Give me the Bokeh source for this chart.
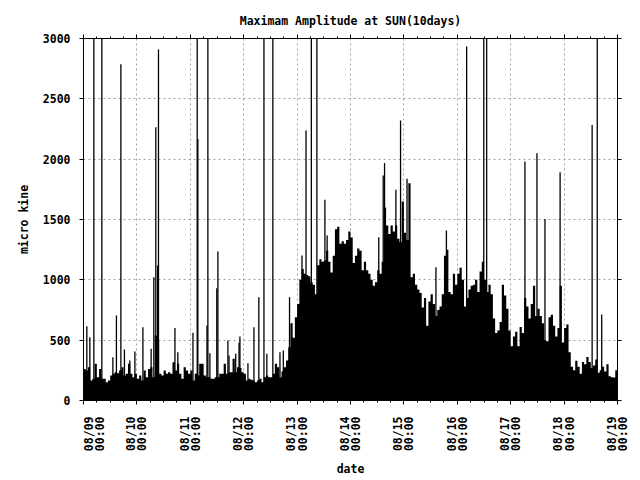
import math
from bokeh.plotting import figure
from bokeh.models import LinearAxis, FixedTicker, Range1d, Grid, ColumnDataSource
from bokeh.embed import file_html
from bokeh.resources import INLINE

# ---- data (hours since 08/09 00:00) ----
hours = list(range(240))
base = [
    262, 249, 276, 166, 180, 304, 193, 262, 180, 180,
    152, 166, 207, 221, 235, 226, 249, 276, 207, 221,
    304, 221, 193, 221, 180, 207, 166, 249, 193, 262,
    276, 193, 538, 497, 221, 207, 249, 221, 235, 221,
    317, 249, 304, 221, 180, 276, 249, 221, 249, 166,
    221, 207, 304, 304, 207, 193, 193, 180, 180, 193,
    193, 221, 221, 304, 221, 235, 235, 345, 235, 276,
    270, 235, 221, 166, 180, 171, 166, 152, 166, 180,
    152, 193, 207, 193, 193, 221, 304, 276, 193, 240,
    276, 331, 442, 640, 520, 690, 800, 1000, 1090, 1050,
    1040, 1030, 980, 960, 880, 1120, 1170, 1150, 1160, 1240,
    1150, 1060, 1200, 1420, 1440, 1300, 1320, 1300, 1330, 1400,
    1350, 1140, 1200, 1260, 1240, 1080, 1150, 1080, 1050, 1000,
    950, 980, 1080, 1050, 1150, 1600, 1450, 1380, 1450, 1400,
    1450, 1340, 1312, 1650, 1390, 1330, 1800, 1022, 1050, 960,
    920, 890, 770, 850, 620, 820, 880, 800, 700, 750,
    780, 880, 1200, 1250, 900, 880, 1050, 960, 1050, 1100,
    1000, 780, 850, 920, 950, 960, 1000, 900, 1070, 1150,
    1000, 900, 960, 880, 680, 560, 580, 650, 960, 870,
    760, 580, 450, 530, 570, 450, 610, 560, 850, 780,
    680, 800, 950, 700, 760, 700, 640, 500, 490, 690,
    710, 620, 530, 600, 950, 480, 600, 630, 400, 280,
    250, 330, 280, 221, 320, 300, 360, 320, 270, 290,
    340, 230, 250, 280, 240, 300, 200, 193, 190, 250,
]
spike_hours = [
    1.5, 2.85, 4.65, 8.24, 13.2, 14.8, 16.8, 18.4, 20.8, 23.1, 26.7, 30.4,
    31.6, 32.5, 33.3, 33.7, 41.1, 42.4,
    49.2, 51.1, 51.4, 55.5, 55.9, 56.8, 59.9, 60.4, 64.9, 65.4, 68.4, 69.9,
    70.3, 73.9, 76.6, 78.8, 81.1, 82.4, 85.1, 88.3, 89.8, 92.6,
    98.2, 100.0, 102.4, 104.9, 108.5, 109.5, 132.7, 134.7, 135.3,
    140.4, 142.5, 145.4, 158.4, 163.1, 172.2, 179.9, 181.2,
    198.4, 203.8, 207.4, 214.2, 228.6, 230.9, 232.9,
]
spike_values = [
    616, 525, 3300, 3300, 359, 704, 2787, 423, 331, 406, 608, 428,
    1022, 2265, 1119, 2908, 600, 400,
    561, 3300, 2168, 621, 3300, 392, 931, 1235, 497, 373, 387, 478,
    530, 309, 608, 856, 3300, 387, 3300, 400, 414, 856,
    1201, 2237, 3300, 3300, 1663, 1367, 1353, 1864, 1969,
    1746, 2320, 1837, 1105, 1409, 2933, 3300, 3300,
    1980, 2049, 1505, 1892, 2284, 3300, 713,
]
day_ticks = [0, 24, 48, 72, 96, 120, 144, 168, 192, 216, 240]
tick_dates = ["08/09", "08/10", "08/11", "08/12", "08/13", "08/14",
              "08/15", "08/16", "08/17", "08/18", "08/19"]
tick_times = ["00:00"] * 11
y_ticks = [0, 500, 1000, 1500, 2000, 2500, 3000]

FONT = "DejaVu Sans Mono"
FS = "11.5px"

p = figure(width=640, height=480, x_range=Range1d(0, 240), y_range=Range1d(0, 3000),
           output_backend="svg", toolbar_location=None,
           x_axis_location=None, y_axis_location=None,
           min_border_left=83, min_border_right=23, min_border_top=38, min_border_bottom=80)
p.center = [r for r in p.center if not isinstance(r, Grid)]
p.background_fill_color = "white"
p.border_fill_color = "white"
p.outline_line_color = "black"
p.outline_line_width = 1

p.title.text = "Maximam Amplitude at SUN(10days)"
p.title.align = "center"
p.title.text_font = FONT
p.title.text_font_size = FS
p.title.text_font_style = "bold"
p.title.text_color = "black"
p.title.standoff = 14

minor_x = [h for h in range(0, 241, 6) if h % 24 != 0]

def style_axis(ax, labels=True):
    ax.axis_line_color = "black"
    ax.major_tick_line_color = "black"
    ax.minor_tick_line_color = "black"
    ax.major_tick_in = 0
    ax.major_tick_out = 4
    ax.minor_tick_in = 0
    ax.minor_tick_out = 2
    ax.major_label_text_font = FONT
    ax.major_label_text_font_style = "bold"
    ax.axis_label_text_font = FONT
    ax.axis_label_text_font_size = FS
    ax.axis_label_text_font_style = "bold"
    ax.axis_label_text_color = "black"
    if labels:
        ax.major_label_text_font_size = FS
        ax.major_label_text_color = "black"
    else:
        ax.major_label_text_font_size = "0px"
        ax.major_label_text_color = None
        ax.major_label_standoff = 0

# left axis
yl = LinearAxis(ticker=FixedTicker(ticks=y_ticks, minor_ticks=[]), axis_label="micro kine")
style_axis(yl)
yl.major_label_standoff = 9
yl.axis_label_standoff = 9
p.add_layout(yl, "left")

# right mirror axis
yr = LinearAxis(ticker=FixedTicker(ticks=y_ticks, minor_ticks=[]))
style_axis(yr, labels=False)
p.add_layout(yr, "right")

# bottom axis with two-line rotated labels
label_text = {t: d + "\n" + tm for t, d, tm in zip(day_ticks, tick_dates, tick_times)}
label_text[day_ticks[0]] = "\n\n" + label_text[day_ticks[0]]  # first label sits right of its tick
xb = LinearAxis(ticker=FixedTicker(ticks=day_ticks, minor_ticks=minor_x), axis_label="date")
style_axis(xb)
xb.major_label_overrides = label_text
xb.major_label_orientation = math.pi / 2
xb.major_label_text_line_height = 0.8
xb.major_label_standoff = 12
xb.axis_label_standoff = 8
p.add_layout(xb, "below")

# top mirror axis
xt = LinearAxis(ticker=FixedTicker(ticks=day_ticks, minor_ticks=minor_x))
style_axis(xt, labels=False)
p.add_layout(xt, "above")

# grids
p.add_layout(Grid(dimension=0, ticker=FixedTicker(ticks=day_ticks[1:-1]),
                  grid_line_color="#a0a0a0", grid_line_dash="2 3", grid_line_width=1))
p.add_layout(Grid(dimension=1, ticker=FixedTicker(ticks=y_ticks[1:-1]),
                  grid_line_color="#a0a0a0", grid_line_dash="2 3", grid_line_width=1))

# data: hourly envelope as one solid stepped area, plus isolated impulses
step_x = hours + [hours[-1] + 1]
step_y = base + [base[-1]]
src = ColumnDataSource(dict(x=step_x, y1=[0] * len(step_x), y2=step_y))
p.varea_step(x="x", y1="y1", y2="y2", step_mode="after", source=src, fill_color="black")
ssrc = ColumnDataSource(dict(x=spike_hours, y0=[0] * len(spike_hours), y1=spike_values))
p.segment(x0="x", y0="y0", x1="x", y1="y1", source=ssrc, line_color="black", line_width=1.3)

open("out.html", "w").write(file_html(p, INLINE))
